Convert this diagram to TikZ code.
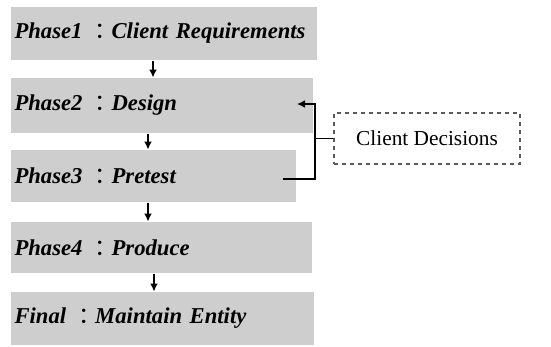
\documentclass[tikz,border=0pt]{standalone}
\usepackage{fontspec}
\setmainfont{Liberation Serif}
\newfontfamily\cjk{Noto Sans CJK SC}
\usetikzlibrary{arrows.meta}
\definecolor{boxgray}{RGB}{206,206,206}
\newcommand{\fwcolon}{\hspace{0.2em}{\normalfont\cjk ：}\hspace{-0.25em}}
\tikzset{every picture/.style={line width=0.75pt}}
\tikzset{
  phasebox/.style={fill=boxgray, anchor=west, inner xsep=3pt, inner ysep=0pt, align=left, font=\fontsize{17}{19}\selectfont\bfseries\itshape},
  flow/.style={line width=1.2pt, -{Latex[length=6pt,width=6pt]}},
  link/.style={line width=1.2pt}
}

\begin{document}
\begin{tikzpicture}[x=0.75pt,y=0.75pt,yscale=-1,xscale=1]
\useasboundingbox (0,0) rectangle (551,347);

% Phases
\node[phasebox, minimum height=39.75pt, text width=223.5pt] (p1) at (10,33.5) {\mbox{Phase1 \fwcolon Client Requirements}};
\node[phasebox, minimum height=41.25pt, text width=220.5pt] (p2) at (10,105.5) {Phase2 \fwcolon Design};
\node[phasebox, minimum height=39pt, text width=207.75pt] (p3) at (10,176) {Phase3 \fwcolon Pretest};
\node[phasebox, minimum height=38.25pt, text width=219.75pt] (p4) at (10,247.5) {Phase4 \fwcolon Produce};
\node[phasebox, minimum height=39.75pt, text width=221.25pt] (p5) at (10,318.5) {Final \fwcolon Maintain Entity};

% Decision box
\node[draw=black!65, dashed, line width=0.9pt, minimum width=139.5pt, minimum height=38.25pt, font=\fontsize{16}{18}\selectfont] (cd) at (427,138.5) {Client Decisions};

% Flow arrows
\draw[flow] (p1.south -| 153,0) -- (p2.north -| 153,0);
\draw[flow] (p2.south -| 148,0) -- (p3.north -| 148,0);
\draw[flow] (p3.south -| 148,0) -- (p4.north -| 148,0);
\draw[flow] (p4.south -| 154,0) -- (p5.north -| 154,0);

% Bracket
\coordinate (bt) at (315,104);
\coordinate (j2) at (297,104);
\coordinate (j3) at (283,179);
\draw[link] (cd.west) -- (cd.west -| bt);
\draw[flow] (j3) -| (bt) -- (j2);

\end{tikzpicture}
\end{document}
